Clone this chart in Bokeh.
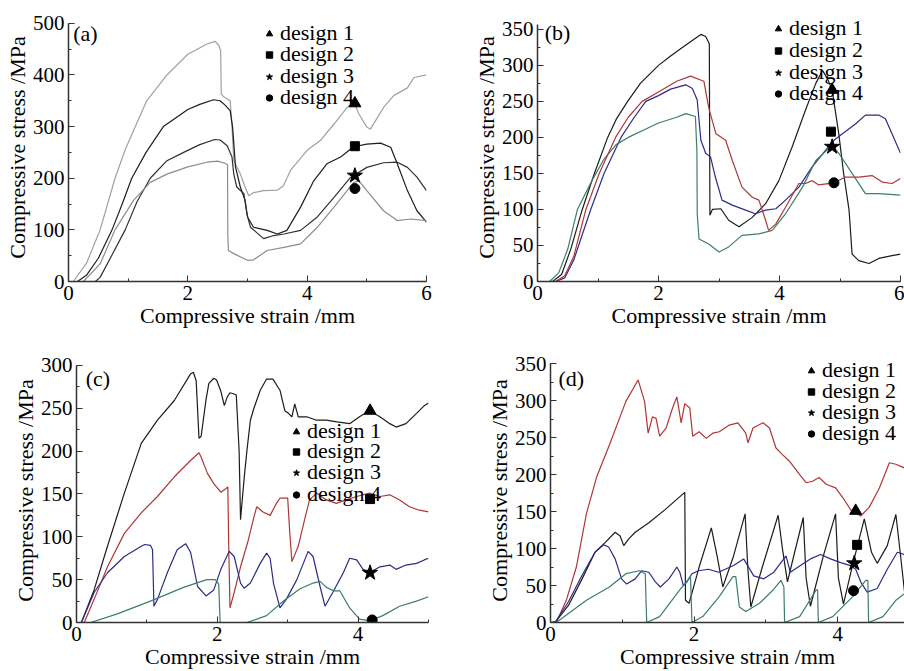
from bokeh.plotting import figure
from bokeh.models import Legend, LegendItem, Label, SingleIntervalTicker, Range1d
from bokeh.layouts import column, row
from bokeh.embed import file_html
from bokeh.resources import INLINE

FONT = "Liberation Serif"
LABELS = ["design 1", "design 2", "design 3", "design 4"]
MARKERS = ["triangle", "square", "star", "circle"]
X_LABEL = "Compressive strain /mm"
Y_LABEL = "Compressive stress /MPa"

# ---------------- panel (a) ----------------
a1_x = [0.0, 0.08, 0.3, 0.53, 0.78, 0.95, 1.12, 1.31, 1.65, 2.0, 2.32, 2.46, 2.52, 2.55, 2.56, 2.6, 2.71, 2.74, 2.77, 2.88, 2.96, 3.02, 3.1, 3.27, 3.5, 3.6, 3.72, 4.0, 4.22, 4.45, 4.67, 4.78, 4.87, 5.0, 5.06, 5.28, 5.45, 5.68, 5.79, 6.0]
a1_y = [0, 0, 35, 100, 200, 255, 300, 350, 400, 440, 460, 465, 457, 447, 363, 358, 350, 300, 234, 208, 183, 166, 172, 176, 177, 185, 215, 254, 273, 305, 337, 347, 324, 299, 295, 337, 360, 375, 395, 400]
a2_x = [0.0, 0.15, 0.3, 0.5, 0.73, 0.9, 1.06, 1.3, 1.59, 2.0, 2.2, 2.43, 2.54, 2.62, 2.71, 2.75, 2.8, 2.88, 2.96, 3.0, 3.1, 3.33, 3.5, 3.66, 3.89, 4.11, 4.33, 4.56, 4.78, 5.0, 5.23, 5.4, 5.51, 5.68, 5.84, 6.0]
a2_y = [0, 0, 12, 45, 100, 150, 200, 250, 300, 333, 343, 352, 350, 342, 331, 299, 221, 183, 157, 125, 105, 99, 92, 99, 144, 195, 228, 241, 261, 266, 268, 260, 228, 176, 137, 115]
a3_x = [0.0, 0.45, 0.53, 0.7, 0.95, 1.15, 1.37, 1.65, 1.93, 2.2, 2.45, 2.54, 2.66, 2.74, 2.77, 2.82, 2.94, 2.99, 3.05, 3.27, 3.44, 3.61, 3.89, 4.17, 4.45, 4.73, 5.0, 5.28, 5.51, 5.68, 5.84, 6.0]
a3_y = [0, 0, 8, 45, 100, 155, 200, 234, 250, 265, 275, 274, 263, 241, 208, 183, 170, 131, 105, 83, 89, 92, 99, 125, 163, 202, 221, 230, 231, 221, 202, 176]
a4_x = [0.0, 0.25, 0.53, 0.78, 1.09, 1.37, 1.65, 2.0, 2.32, 2.5, 2.62, 2.665, 2.67, 2.68, 2.77, 3.0, 3.1, 3.33, 3.61, 3.89, 4.17, 4.45, 4.67, 4.78, 4.87, 5.0, 5.28, 5.51, 5.73, 6.0]
a4_y = [0, 0, 34, 100, 157, 192, 208, 222, 231, 233, 229, 226, 92, 60, 54, 41, 42, 60, 66, 73, 105, 144, 176, 192, 195, 176, 137, 118, 121, 118]
a_mark_x = [4.8, 4.8, 4.8, 4.8]
a_mark_y = [345, 262, 205, 180]

# ---------------- panel (b) ----------------
b1_x = [0, 0.25, 0.4, 0.55, 0.74, 0.94, 1.16, 1.3, 1.49, 1.7, 2.0, 2.2, 2.4, 2.6, 2.7, 2.78, 2.84, 2.85, 2.89, 3.03, 3.16, 3.33, 3.55, 3.77, 3.99, 4.21, 4.43, 4.6, 4.71, 4.79, 4.87, 4.98, 5.06, 5.15, 5.2, 5.31, 5.48, 5.64, 5.86, 6.0]
b1_y = [0, 0, 10, 45, 100, 150, 200, 225, 250, 275, 300, 313, 325, 337, 343, 340, 330, 92, 100, 101, 85, 76, 89, 108, 140, 187, 238, 275, 293, 282, 266, 205, 150, 99, 38, 29, 25, 32, 36, 38]
b2_x = [0, 0.3, 0.45, 0.6, 0.88, 1.1, 1.38, 1.6, 1.79, 2.0, 2.2, 2.45, 2.56, 2.64, 2.7, 2.78, 2.86, 2.94, 3.05, 3.22, 3.44, 3.6, 3.77, 3.94, 4.1, 4.32, 4.54, 4.76, 4.9, 5.04, 5.26, 5.42, 5.64, 5.75, 5.86, 6.0]
b2_y = [0, 0, 5, 30, 100, 150, 200, 228, 250, 258, 267, 273, 268, 252, 196, 178, 173, 145, 113, 106, 99, 94, 99, 101, 113, 131, 159, 182, 196, 205, 219, 231, 231, 226, 205, 178]
b3_x = [0, 0.2, 0.35, 0.5, 0.66, 0.9, 1.1, 1.3, 1.5, 1.8, 2.0, 2.3, 2.45, 2.61, 2.635, 2.64, 2.67, 2.83, 3.0, 3.16, 3.38, 3.66, 3.88, 4.1, 4.38, 4.6, 4.87, 4.98, 5.2, 5.42, 5.64, 6.0]
b3_y = [0, 0, 12, 45, 100, 140, 170, 190, 200, 212, 220, 228, 233, 229, 180, 94, 59, 52, 41, 48, 64, 66, 71, 94, 131, 168, 189, 178, 150, 122, 122, 120]
b4_x = [0, 0.3, 0.45, 0.6, 0.8, 1.02, 1.29, 1.5, 1.73, 2.0, 2.3, 2.53, 2.75, 2.8, 2.84, 2.95, 3.11, 3.22, 3.38, 3.55, 3.66, 3.77, 3.82, 3.94, 4.1, 4.32, 4.43, 4.54, 4.65, 4.9, 5.09, 5.31, 5.53, 5.7, 5.86, 6.0]
b4_y = [0, 0, 8, 35, 100, 150, 200, 228, 250, 263, 278, 285, 278, 255, 238, 205, 196, 168, 131, 117, 113, 85, 71, 80, 103, 136, 136, 140, 134, 137, 145, 145, 147, 138, 136, 143]
b_mark_x = [4.87, 4.85, 4.87, 4.9]
b_mark_y = [266, 208, 187, 137]

# ---------------- panel (c) ----------------
c1_x = [0, 0.07, 0.25, 0.44, 0.68, 0.92, 1.15, 1.39, 1.62, 1.66, 1.7, 1.74, 1.77, 1.84, 1.88, 1.95, 1.99, 2.05, 2.1, 2.14, 2.18, 2.26, 2.27, 2.31, 2.33, 2.38, 2.42, 2.47, 2.52, 2.61, 2.7, 2.79, 2.89, 2.96, 3.01, 3.06, 3.1, 3.15, 3.27, 3.41, 3.55, 3.7, 3.88, 4.02, 4.16, 4.31, 4.45, 4.54, 4.68, 4.83, 4.94, 5.0]
c1_y = [0, 0, 38, 89, 151, 209, 236, 259, 290, 292, 282, 215, 217, 260, 279, 285, 283, 270, 253, 263, 268, 266, 265, 200, 120, 167, 200, 236, 250, 271, 284, 284, 271, 247, 244, 240, 255, 240, 240, 236, 236, 234, 232, 240, 247, 240, 232, 228, 232, 244, 253, 256]
c2_x = [0, 0.11, 0.25, 0.44, 0.68, 0.92, 1.15, 1.39, 1.62, 1.74, 1.77, 1.86, 1.95, 2.05, 2.12, 2.15, 2.16, 2.18, 2.24, 2.33, 2.43, 2.52, 2.56, 2.65, 2.75, 2.84, 2.89, 3.0, 3.03, 3.06, 3.15, 3.24, 3.31, 3.41, 3.55, 3.69, 3.83, 3.98, 4.16, 4.31, 4.45, 4.59, 4.73, 4.87, 5.0]
c2_y = [0, 0, 27, 65, 104, 128, 147, 170, 189, 198, 193, 174, 162, 152, 156, 158, 100, 17, 35, 65, 93, 123, 135, 129, 125, 139, 145, 145, 104, 71, 89, 120, 143, 151, 143, 139, 143, 147, 151, 147, 149, 143, 135, 131, 129]
c3_x = [0, 0.07, 0.25, 0.44, 0.68, 0.92, 0.97, 1.05, 1.08, 1.1, 1.15, 1.29, 1.43, 1.55, 1.62, 1.72, 1.84, 1.95, 2.05, 2.17, 2.24, 2.33, 2.38, 2.47, 2.61, 2.7, 2.75, 2.8, 2.89, 2.98, 3.13, 3.29, 3.36, 3.46, 3.53, 3.64, 3.79, 3.88, 3.98, 4.07, 4.16, 4.31, 4.45, 4.54, 4.68, 4.83, 4.94, 5.0]
c3_y = [0, 0, 35, 58, 77, 89, 91, 90, 85, 19, 27, 58, 85, 92, 82, 42, 31, 38, 62, 83, 77, 46, 40, 46, 69, 81, 75, 45, 17, 27, 50, 83, 77, 42, 19, 35, 58, 75, 73, 62, 58, 65, 67, 62, 67, 69, 73, 75]
c4_x = [0, 0.2, 0.58, 1.05, 1.52, 1.85, 1.97, 2.02, 2.04, 2.42, 2.7, 2.94, 3.17, 3.36, 3.46, 3.55, 3.65, 3.74, 3.88, 4.02, 4.17, 4.35, 4.59, 4.83, 5.0]
c4_y = [0, 0, 10, 25, 41, 50, 50, 45, 0, 0, 8, 25, 39, 46, 48, 41, 37, 37, 17, 4, 2, 8, 19, 25, 30]
c_mark_x = [4.17, 4.17, 4.17, 4.2]
c_mark_y = [247, 144, 58, 3]

# ---------------- panel (d) ----------------
d1_x = [0, 0.08, 0.22, 0.36, 0.5, 0.64, 0.82, 1.05, 1.22, 1.31, 1.36, 1.42, 1.47, 1.52, 1.61, 1.7, 1.76, 1.82, 1.87, 1.94, 1.98, 2.07, 2.17, 2.26, 2.35, 2.49, 2.61, 2.72, 2.75, 2.82, 2.96, 3.05, 3.14, 3.23, 3.33, 3.47, 3.56, 3.65, 3.74, 3.84, 3.97, 4.07, 4.19, 4.32, 4.44, 4.58, 4.72, 4.81, 4.93]
d1_y = [0, 0, 30, 75, 147, 196, 240, 299, 328, 299, 256, 278, 276, 252, 263, 290, 305, 270, 296, 290, 252, 258, 249, 256, 258, 267, 270, 256, 243, 263, 270, 263, 236, 227, 218, 200, 189, 191, 196, 187, 182, 169, 151, 144, 156, 182, 216, 214, 209]
d2_x = [0, 0.07, 0.25, 0.44, 0.62, 0.76, 0.9, 0.97, 1.02, 1.09, 1.18, 1.37, 1.6, 1.87, 1.88, 1.93, 2.07, 2.24, 2.32, 2.4, 2.55, 2.71, 2.75, 2.79, 2.95, 3.17, 3.23, 3.3, 3.4, 3.52, 3.56, 3.62, 3.8, 3.97, 4.01, 4.08, 4.2, 4.37, 4.47, 4.55, 4.69, 4.81, 4.87, 4.93]
d2_y = [0, 1, 23, 59, 95, 108, 122, 117, 104, 113, 122, 135, 153, 176, 30, 26, 75, 128, 90, 48, 90, 147, 70, 21, 75, 145, 100, 55, 95, 142, 60, 22, 90, 147, 60, 25, 75, 140, 95, 80, 104, 146, 95, 42]
d3_x = [0, 0.07, 0.25, 0.44, 0.62, 0.74, 0.81, 0.9, 0.99, 1.06, 1.18, 1.27, 1.37, 1.46, 1.53, 1.65, 1.76, 1.8, 1.85, 1.9, 1.97, 2.06, 2.2, 2.34, 2.55, 2.69, 2.83, 2.97, 3.11, 3.28, 3.34, 3.48, 3.62, 3.76, 3.9, 4.04, 4.18, 4.25, 4.32, 4.41, 4.55, 4.69, 4.83, 4.93]
d3_y = [0, 1, 28, 64, 95, 105, 102, 86, 59, 52, 59, 70, 68, 55, 48, 59, 75, 68, 50, 55, 66, 70, 72, 68, 77, 86, 63, 59, 68, 90, 68, 77, 86, 92, 86, 81, 77, 72, 55, 41, 46, 72, 95, 92]
d4_x = [0, 0.08, 0.5, 0.82, 1.05, 1.24, 1.32, 1.33, 1.34, 1.52, 1.8, 1.91, 1.95, 1.96, 1.97, 2.12, 2.35, 2.54, 2.58, 2.63, 2.72, 2.91, 3.1, 3.21, 3.25, 3.26, 3.47, 3.7, 3.72, 3.73, 3.93, 4.21, 4.39, 4.42, 4.43, 4.63, 4.81, 4.93]
d4_y = [0, 0, 30, 48, 66, 70, 66, 30, 0, 8, 44, 57, 62, 30, 0, 8, 35, 62, 62, 21, 15, 26, 44, 57, 48, 0, 8, 44, 44, 0, 8, 35, 57, 57, 0, 8, 30, 39]
d_mark_x = [4.25, 4.27, 4.23, 4.22]
d_mark_y = [151, 105, 80, 43]

BLACK = "#1c1c1c"
RED = "#b03636"
BLUE = "#2c2c88"
GREEN = "#3d7d6a"


def make_panel(tag, xmax, ytop, ymax, ystep, curves, colors, mx, my, borders,
               leg_x, leg_ys, tag_xy, w, h):
    left, right, top, bottom = borders
    p = figure(width=w, height=h, x_range=Range1d(0, xmax), y_range=Range1d(0, ytop),
               output_backend="svg", toolbar_location=None,
               min_border_left=left, min_border_right=right,
               min_border_top=top, min_border_bottom=bottom,
               x_axis_label=X_LABEL, y_axis_label=Y_LABEL)
    p.grid.visible = False
    p.outline_line_color = None
    p.xaxis.ticker = SingleIntervalTicker(interval=2, num_minor_ticks=2)
    p.yaxis.ticker = SingleIntervalTicker(interval=ystep, num_minor_ticks=2)
    p.yaxis.bounds = (0, ymax)
    for ax in (p.xaxis[0], p.yaxis[0]):
        ax.major_tick_in = 6
        ax.major_tick_out = 0
        ax.minor_tick_in = 3
        ax.minor_tick_out = 0
        ax.axis_line_color = "#333333"
        ax.axis_line_width = 1.5
        ax.major_tick_line_color = "#333333"
        ax.minor_tick_line_color = "#333333"
        ax.major_label_text_font = FONT
        ax.major_label_text_font_size = "21px"
        ax.major_label_text_color = "black"
        ax.major_label_standoff = 4
        ax.axis_label_text_font = FONT
        ax.axis_label_text_font_size = "22px"
        ax.axis_label_text_font_style = "normal"
        ax.axis_label_text_color = "black"
        ax.axis_label_standoff = 0
    for (xs, ys), c in zip(curves, colors):
        p.line(xs, ys, line_color=c, line_width=1.2)
    sizes = [12, 9, 16, 10]
    for i in range(4):
        ln = p.line(x=[], y=[], line_color="black", line_width=1.3)
        sc = p.scatter(x=[mx[i]], y=[my[i]], marker=MARKERS[i], size=sizes[i],
                       fill_color="black", line_color="black")
        leg = Legend(items=[LegendItem(label=LABELS[i], renderers=[ln, sc])],
                     location=(leg_x, leg_ys[i]),
                     label_text_font=FONT, label_text_font_size="22px",
                     label_text_color="black",
                     label_height=21, glyph_height=21, glyph_width=16,
                     label_standoff=3, spacing=0, padding=0, margin=0,
                     border_line_alpha=0, background_fill_alpha=0)
        p.add_layout(leg)
    p.add_layout(Label(x=tag_xy[0], y=tag_xy[1], text=tag, text_font=FONT,
                       text_font_size="22px", text_baseline="middle", text_color="black"))
    return p


pa = make_panel("(a)", 6, 519, 500, 100,
                [(a1_x, a1_y), (a2_x, a2_y), (a3_x, a3_y), (a4_x, a4_y)],
                ["#a0a0a0", "#1e1e1e", "#303030", "#8c8c8c"],
                a_mark_x, a_mark_y, (68, 26, 13, 54), 193, [235, 214, 192, 171],
                (0.08, 480), 452, 335)
pb = make_panel("(b)", 6, 372, 357, 50,
                [(b1_x, b1_y), (b2_x, b2_y), (b3_x, b3_y), (b4_x, b4_y)],
                [BLACK, BLUE, GREEN, RED],
                b_mark_x, b_mark_y, (85, 4, 13, 54), 233, [240, 218, 196, 175],
                (0.12, 346), 452, 335)
pc = make_panel("(c)", 5, 308, 300, 50,
                [(c1_x, c1_y), (c2_x, c2_y), (c3_x, c3_y), (c4_x, c4_y)],
                [BLACK, RED, BLUE, GREEN],
                c_mark_x, c_mark_y, (76, 24, 23, 48), 212, [178, 158, 137, 115],
                (0.13, 285), 452, 336)
pd = make_panel("(d)", 4.93, 357, 350, 50,
                [(d1_x, d1_y), (d2_x, d2_y), (d3_x, d3_y), (d4_x, d4_y)],
                [RED, BLACK, BLUE, GREEN],
                d_mark_x, d_mark_y, (98, 0, 23, 48), 253, [239, 218, 197, 176],
                (0.11, 330), 452, 336)

layout = column(row(pa, pb), row(pc, pd))
open("out.html", "w").write(file_html(layout, INLINE))
